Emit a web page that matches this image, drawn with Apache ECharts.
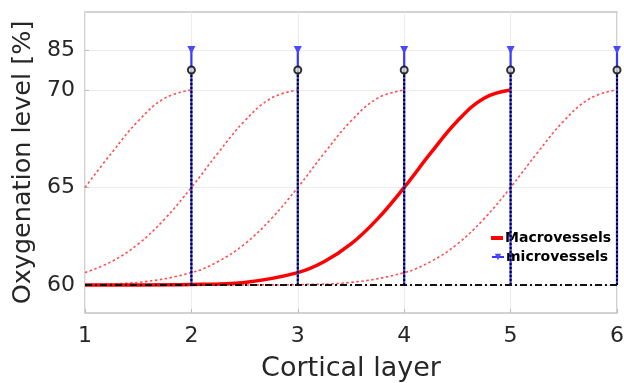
<!DOCTYPE html>
<html><head><meta charset="utf-8">
<script src="https://cdn.jsdelivr.net/npm/echarts@6/dist/echarts.min.js"></script>
<style>html,body{margin:0;padding:0;background:#fff}#c{width:624px;height:383px}</style>
</head><body><div id="c"></div>
<script>
// ---- data ----
var xTicks = [1, 2, 3, 4, 5, 6];
var yTickLabels = [60, 65, 70, 85];
// macrovessel oxygenation profile: distance before the peak layer -> value (%)
var profileOffsets = [0, 0.25, 0.5, 0.75, 1, 1.25, 1.5, 1.75, 2, 2.5, 3, 3.5, 4];
var profileValues  = [70, 69.58, 68.41, 66.77, 65, 63.39, 62.10, 61.20, 60.63, 60.13, 60.02, 60.00, 60.00];
var mainPeak = 5;
var dashedPeaks = [2, 3, 4, 6];
var microLayers = [2, 3, 4, 5, 6];
var microTop = 85;      // blue triangles
var microMid = 77.5;    // black circles
var baseLevel = 60;

// broken y scale: 60-70 linear, 70-85 compressed
var BREAK = 70, TOPDISP = 72.05;
function toAxis(v) { return v <= BREAK ? v : BREAK + (v - BREAK) * (TOPDISP - BREAK) / (85 - BREAK); }
function fromAxis(a) { return a <= BREAK + 1e-6 ? a : Math.round(BREAK + (a - BREAK) * (85 - BREAK) / (TOPDISP - BREAK)); }

function curve(peak) {
  var pts = [];
  for (var i = profileOffsets.length - 1; i >= 0; i--) {
    var x = peak - profileOffsets[i];
    if (x >= 1) pts.push([x, toAxis(profileValues[i])]);
  }
  return pts;
}

var blueData = [], blackData = [], circleData = [];
microLayers.forEach(function (x, i) {
  if (i) { blueData.push('-'); blackData.push('-'); }
  blueData.push({ value: [x, toAxis(baseLevel)], symbol: 'none' });
  blueData.push({ value: [x, toAxis(microTop)] });
  blackData.push([x, toAxis(baseLevel)]);
  blackData.push([x, toAxis(microMid)]);
  circleData.push([x, toAxis(microMid)]);
});

var font = 'DejaVu Sans';
var txt = '#262626';
var series = [];
dashedPeaks.forEach(function (p) {
  series.push({ type: 'line', data: curve(p), smooth: 0.4, symbol: 'none', silent: true,
    lineStyle: { color: '#ff4f4f', width: 1.6, type: [2.5, 2.5] }, z: 2 });
});
series.push({ name: 'Macrovessels', type: 'line', data: curve(mainPeak), smooth: 0.4, symbol: 'none',
  lineStyle: { color: '#ff0000', width: 3.5 }, itemStyle: { color: '#ff0000' }, z: 3 });
series.push({ type: 'line', data: [[1, toAxis(baseLevel)], [6, toAxis(baseLevel)]], symbol: 'none',
  lineStyle: { color: '#111', width: 2, type: [7, 3, 2, 3] }, z: 4 });
series.push({ name: 'microvessels', type: 'line', data: blueData, symbol: 'triangle', symbolRotate: 180,
  symbolSize: 8, connectNulls: false, lineStyle: { color: '#3535ff', width: 2.2 },
  itemStyle: { color: '#4848ff' }, z: 5 });
series.push({ type: 'line', data: blackData, symbol: 'none', connectNulls: false,
  lineStyle: { color: '#000', width: 2, type: [2, 2] }, z: 6 });
series.push({ type: 'scatter', data: circleData, symbol: 'circle', symbolSize: 7,
  itemStyle: { color: '#ddd', borderColor: '#000', borderWidth: 2 }, z: 7 });

var legendText = { fontFamily: font, fontSize: 14, fontWeight: 'bold', color: '#000', padding: [0, 0, 0, -3] };
var chart = echarts.init(document.getElementById('c'), null, { renderer: 'canvas' });
chart.setOption({
  animation: false,
  backgroundColor: '#fff',
  grid: { left: 85, right: 7, top: 12, bottom: 70, show: true, borderColor: '#c4c4c4', borderWidth: 1.5,
    backgroundColor: 'transparent', containLabel: false, outerBoundsMode: 'none' },
  legend: [{
    data: [{ name: 'Macrovessels', icon: 'rect' }], left: 489, top: 229, padding: [2, 2],
    itemWidth: 12, itemHeight: 4, backgroundColor: '#fff', textStyle: legendText
  }, {
    data: ['microvessels'], left: 489, top: 248, padding: [2, 2],
    itemWidth: 12, itemHeight: 8, backgroundColor: '#fff', textStyle: legendText
  }],
  xAxis: {
    type: 'value', min: 1, max: 6, interval: 1,
    name: 'Cortical layer', nameLocation: 'middle', nameGap: 42,
    nameTextStyle: { fontFamily: font, fontSize: 27, color: txt },
    axisLine: { show: false },
    axisTick: { show: true, inside: true, length: 4, lineStyle: { color: '#bbb' } },
    axisLabel: { fontFamily: font, fontSize: 22, color: txt, margin: 12, showMinLabel: true, showMaxLabel: true },
    splitLine: { show: true, lineStyle: { color: '#ececec', width: 1 } }
  },
  yAxis: {
    type: 'value', min: 58.56, max: 74.0,
    name: 'Oxygenation level [%]', nameLocation: 'middle', nameGap: 37,
    nameTextStyle: { fontFamily: font, fontSize: 25.5, color: txt },
    axisLine: { show: false },
    axisTick: { show: true, inside: true, length: 4, lineStyle: { color: '#bbb' }, customValues: yTickLabels.map(toAxis) },
    axisLabel: { fontFamily: font, fontSize: 22, color: txt, margin: 10, customValues: yTickLabels.map(toAxis),
      formatter: function (v) { return String(fromAxis(v)); } },
    splitLine: { show: true, lineStyle: { color: '#ececec', width: 1 } }
  },
  series: series
});
</script></body></html>
